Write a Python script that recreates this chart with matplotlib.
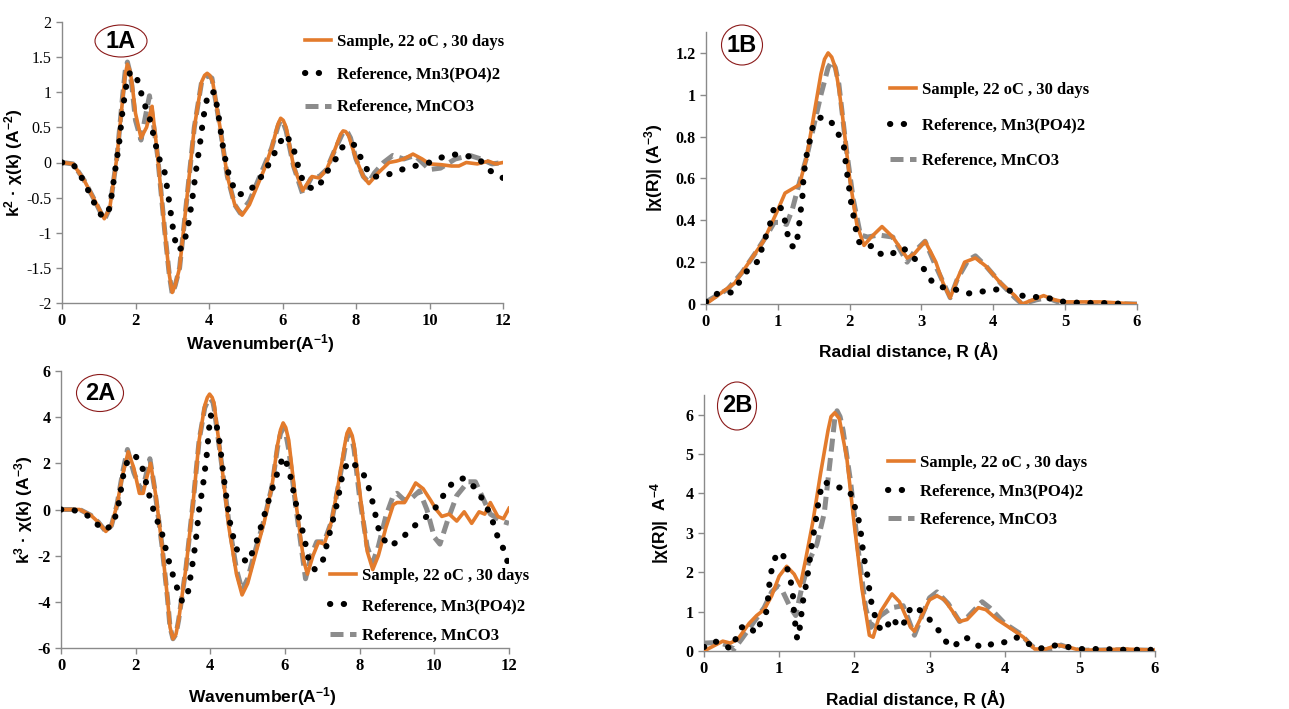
import matplotlib
matplotlib.use("Agg")
import matplotlib.pyplot as plt
from matplotlib.patches import Ellipse
from matplotlib.font_manager import FontProperties

plt.rcParams['axes.unicode_minus'] = False
plt.rcParams['font.family'] = ['Liberation Serif', 'DejaVu Serif']
plt.rcParams['font.weight'] = 'bold'
plt.rcParams['mathtext.default'] = 'bf'
plt.rcParams['mathtext.fontset'] = 'custom'
plt.rcParams['mathtext.bf'] = 'Liberation Sans:bold'

# ---- panel 1A : k^2 weighted chi(k) ----
k1_s = [0, 0.3, 0.6, 0.9, 1.15, 1.3, 1.5, 1.65, 1.72, 1.78, 1.84, 1.9, 2.0, 2.15, 2.3, 2.45, 2.6,
        2.8, 2.92, 3.0, 3.08, 3.2, 3.4, 3.6, 3.8, 3.88, 3.95, 4.02, 4.1, 4.3, 4.5, 4.7, 4.9, 5.1,
        5.3, 5.5, 5.7, 5.88, 5.95, 6.02, 6.1, 6.3, 6.55, 6.8, 7.0, 7.2, 7.4, 7.58, 7.65, 7.72,
        7.8, 8.0, 8.2, 8.35, 8.6, 8.9, 9.1, 9.3, 9.55, 9.8, 10.0, 10.3, 10.6, 10.8, 11.0, 11.3,
        11.6, 11.8, 12.0]
chi1_s = [0, -0.02, -0.25, -0.55, -0.8, -0.65, 0.1, 0.9, 1.25, 1.4, 1.32, 1.15, 0.7, 0.35, 0.5,
          0.8, 0.1, -1.0, -1.6, -1.85, -1.75, -1.5, -0.5, 0.5, 1.15, 1.24, 1.27, 1.24, 1.15, 0.5,
          -0.2, -0.6, -0.75, -0.6, -0.35, -0.1, 0.2, 0.55, 0.63, 0.6, 0.5, -0.05, -0.4, -0.2,
          -0.22, -0.1, 0.15, 0.4, 0.45, 0.44, 0.38, 0.05, -0.2, -0.3, -0.15, 0.0, 0.02, 0.05,
          0.12, 0.05, -0.02, -0.03, -0.05, -0.05, 0.0, -0.02, 0.02, -0.02, 0.0]
k1_p = [0, 0.3, 0.6, 0.85, 1.1, 1.3, 1.45, 1.55, 1.65, 1.75, 1.85, 1.98, 2.1, 2.2, 2.3, 2.4, 2.55,
        2.65, 2.8, 2.9, 3.05, 3.15, 3.3, 3.45, 3.55, 3.65, 3.75, 3.85, 3.98, 4.15, 4.25, 4.4, 4.55,
        4.75, 4.95, 5.2, 5.5, 5.8, 5.95, 6.1, 6.3, 6.5, 6.7, 6.9, 7.1, 7.3, 7.45, 7.6, 7.75, 7.95,
        8.15, 8.4, 8.7, 9.0, 9.25, 9.6, 10.0, 10.2, 10.5, 10.8, 11.0, 11.4, 11.6, 11.9, 12.0]
chi1_p = [0, -0.02, -0.27, -0.55, -0.78, -0.65, -0.1, 0.25, 0.75, 1.1, 1.28, 1.28, 1.1, 0.9, 0.75,
          0.6, 0.25, 0.05, -0.15, -0.5, -1.05, -1.25, -1.2, -0.85, -0.5, -0.1, 0.25, 0.65, 1.0, 1.0,
          0.7, 0.15, -0.2, -0.45, -0.45, -0.35, -0.15, 0.15, 0.3, 0.4, 0.2, -0.2, -0.35, -0.38,
          -0.25, -0.05, 0.05, 0.2, 0.28, 0.25, 0.05, -0.2, -0.2, -0.15, -0.1, -0.05, 0.0, 0.05, 0.1,
          0.12, 0.1, 0.02, -0.1, -0.2, -0.22]
k1_c = [0, 0.3, 0.6, 0.9, 1.15, 1.3, 1.5, 1.65, 1.72, 1.78, 1.84, 1.9, 2.0, 2.15, 2.25, 2.38, 2.5,
        2.6, 2.8, 2.92, 3.0, 3.08, 3.2, 3.4, 3.6, 3.8, 3.92, 4.0, 4.08, 4.3, 4.5, 4.7, 4.85, 5.1,
        5.3, 5.5, 5.7, 5.88, 5.95, 6.02, 6.1, 6.3, 6.55, 6.8, 7.0, 7.2, 7.4, 7.62, 7.7, 7.78,
        7.85, 8.0, 8.2, 8.35, 8.5, 8.75, 9.0, 9.3, 9.6, 9.8, 10.0, 10.3, 10.7, 11.1, 11.4, 11.7,
        12.0]
chi1_c = [0, -0.02, -0.25, -0.55, -0.82, -0.65, 0.1, 0.95, 1.3, 1.43, 1.3, 1.1, 0.6, 0.32, 0.6,
          0.95, 0.5, 0.1, -1.0, -1.6, -1.87, -1.75, -1.5, -0.5, 0.5, 1.15, 1.22, 1.23, 1.2, 0.5,
          -0.2, -0.6, -0.72, -0.55, -0.3, -0.05, 0.2, 0.52, 0.6, 0.57, 0.45, -0.05, -0.45, -0.2,
          -0.2, -0.1, 0.15, 0.4, 0.45, 0.42, 0.35, 0.05, -0.2, -0.28, -0.15, 0.0, 0.1, 0.05, 0.1,
          0.0, -0.1, -0.08, 0.05, 0.1, 0.05, -0.02, 0.0]

# ---- panel 1B : |chi(R)| ----
r1_s = [0, 0.2, 0.4, 0.6, 0.8, 1.0, 1.1, 1.2, 1.3, 1.4, 1.5, 1.6, 1.65, 1.7, 1.75, 1.8, 1.85,
        1.9, 2.0, 2.1, 2.2, 2.3, 2.45, 2.6, 2.8, 2.9, 3.05, 3.2, 3.3, 3.4, 3.5, 3.6, 3.75, 3.9,
        4.1, 4.3, 4.4, 4.55, 4.7, 4.85, 5.0, 5.5, 6.0]
ft1_s = [0.0, 0.05, 0.1, 0.2, 0.3, 0.45, 0.53, 0.55, 0.57, 0.7, 0.9, 1.1, 1.17, 1.2, 1.18, 1.13,
         1.03, 0.9, 0.6, 0.38, 0.28, 0.32, 0.37, 0.32, 0.22, 0.24, 0.3, 0.2, 0.1, 0.03, 0.12,
         0.2, 0.22, 0.18, 0.1, 0.04, 0.0, 0.02, 0.04, 0.02, 0.01, 0.01, 0.0]
r1_p = [0, 0.11, 0.24, 0.37, 0.55, 0.64, 0.74, 0.78, 0.83, 0.89, 0.92, 0.97, 1.07, 1.13, 1.18,
        1.24, 1.28, 1.3, 1.32, 1.34, 1.36, 1.41, 1.45, 1.48, 1.57, 1.69, 1.79, 1.86, 1.92, 1.95,
        1.99, 2.03, 2.06, 2.09, 2.12, 2.22, 2.33, 2.43, 2.54, 2.74, 2.86, 2.99, 3.16, 3.29, 3.41,
        3.53, 3.65, 3.79, 3.92, 4.05, 4.18, 4.44, 4.55, 4.69, 4.83, 4.95, 5.22, 5.5, 5.9]
ft1_p = [0.01, 0.045, 0.055, 0.055, 0.15, 0.18, 0.21, 0.27, 0.32, 0.38, 0.43, 0.48, 0.45, 0.34,
         0.28, 0.27, 0.33, 0.39, 0.45, 0.5, 0.62, 0.73, 0.79, 0.84, 0.89, 0.89, 0.85, 0.8, 0.75,
         0.66, 0.56, 0.46, 0.41, 0.35, 0.3, 0.27, 0.28, 0.24, 0.23, 0.27, 0.23, 0.19, 0.1, 0.08,
         0.08, 0.06, 0.05, 0.06, 0.06, 0.07, 0.07, 0.035, 0.035, 0.03, 0.025, 0.012, 0.005, 0.005,
         0.0]
r1_c = [0, 0.3, 0.5, 0.7, 0.85, 0.95, 1.05, 1.12, 1.2, 1.3, 1.4, 1.5, 1.6, 1.7, 1.75, 1.8, 1.85,
        1.95, 2.05, 2.15, 2.25, 2.4, 2.6, 2.8, 2.9, 3.05, 3.2, 3.4, 3.5, 3.65, 3.75, 3.9, 4.1,
        4.3, 4.4, 4.6, 4.75, 4.9, 5.0, 6.0]
ft1_c = [0.01, 0.07, 0.15, 0.25, 0.33, 0.39, 0.39, 0.38, 0.45, 0.58, 0.7, 0.85, 1.0, 1.13, 1.16,
         1.13, 1.05, 0.75, 0.5, 0.33, 0.32, 0.33, 0.32, 0.2, 0.25, 0.3, 0.18, 0.03, 0.12, 0.21,
         0.23, 0.18, 0.1, 0.03, 0.0, 0.02, 0.03, 0.01, 0.005, 0.0]

# ---- panel 2A : k^3 weighted chi(k) ----
k2_s = [0, 0.5, 0.8, 1.0, 1.2, 1.35, 1.5, 1.65, 1.8, 1.95, 2.1, 2.2, 2.3, 2.4, 2.55, 2.7, 2.85,
        2.92, 3.0, 3.08, 3.15, 3.35, 3.55, 3.7, 3.85, 3.92, 3.98, 4.05, 4.1, 4.3, 4.5, 4.7, 4.85,
        5.0, 5.2, 5.45, 5.65, 5.8, 5.88, 5.95, 6.02, 6.1, 6.3, 6.5, 6.6, 6.75, 6.9, 7.05, 7.25,
        7.45, 7.6, 7.66, 7.72, 7.8, 7.85, 8.0, 8.2, 8.35, 8.5, 8.7, 8.9, 9.0, 9.2, 9.35, 9.5,
        9.7, 9.9, 10.05, 10.2, 10.4, 10.6, 10.8, 11.0, 11.2, 11.35, 11.5, 11.7, 11.85, 12.0]
chi2_s = [0, 0.0, -0.25, -0.55, -0.95, -0.7, 0.2, 1.5, 2.5, 1.8, 0.7, 0.7, 1.4, 2.0, 0.5, -1.5,
          -3.8, -5.1, -5.6, -5.4, -4.8, -2.5, 0.5, 3.0, 4.5, 4.85, 5.0, 4.85, 4.6, 2.0, -0.8,
          -2.8, -3.7, -3.2, -2.0, -0.5, 1.0, 2.8, 3.45, 3.75, 3.55, 3.0, 0.2, -2.2, -2.8, -2.0,
          -1.4, -1.5, -0.5, 1.3, 2.8, 3.3, 3.5, 3.2, 2.8, 0.8, -1.8, -2.6, -2.0, -0.8, 0.2, 0.3,
          0.3, 0.7, 1.15, 0.9, 0.4, 0.0, -0.3, -0.2, -0.5, -0.1, -0.6, -0.1, -0.2, 0.3, -0.3,
          -0.4, 0.05]
k2_p = [0, 0.3, 0.7, 1.15, 1.4, 1.55, 1.7, 1.85, 2.0, 2.15, 2.25, 2.35, 2.5, 2.7, 2.85, 2.95, 3.05,
        3.15, 3.25, 3.4, 3.5, 3.6, 3.7, 3.8, 3.9, 4.0, 4.15, 4.25, 4.35, 4.45, 4.55, 4.7, 4.85,
        5.0, 5.2, 5.4, 5.6, 5.8, 5.95, 6.1, 6.2, 6.35, 6.5, 6.65, 6.8, 7.0, 7.2, 7.4, 7.55, 7.7,
        7.9, 8.05, 8.2, 8.35, 8.5, 8.6, 8.8, 9.1, 9.4, 9.7, 9.9, 10.0, 10.2, 10.4, 10.6, 10.8,
        11.0, 11.2, 11.35, 11.5, 11.7, 11.85, 11.95, 12.0]
chi2_p = [0, 0.0, -0.25, -0.9, -0.65, 0.3, 1.8, 2.3, 2.3, 2.0, 1.35, 0.7, -0.15, -1.0, -2.0, -2.6,
          -3.1, -3.6, -4.0, -3.6, -2.6, -1.5, 0.0, 1.0, 2.3, 4.1, 3.8, 2.9, 1.5, 0.3, -0.8, -1.7,
          -2.1, -2.3, -1.6, -0.5, 0.6, 1.6, 2.3, 1.8, 1.0, -0.2, -1.1, -2.3, -2.6, -2.3, -1.0, 0.3,
          1.6, 2.1, 1.9, 1.7, 1.2, 0.3, -0.8, -1.2, -1.6, -1.3, -0.8, -0.4, -0.2, 0.0, 0.5, 1.0,
          1.3, 1.35, 1.1, 0.7, 0.25, -0.2, -1.2, -1.7, -2.2, -2.5]
k2_c = [0, 0.5, 0.8, 1.0, 1.2, 1.35, 1.5, 1.65, 1.78, 1.95, 2.15, 2.25, 2.38, 2.5, 2.7, 2.85, 2.92,
        3.0, 3.08, 3.15, 3.35, 3.55, 3.7, 3.85, 3.93, 4.0, 4.07, 4.1, 4.3, 4.5, 4.7, 4.85, 5.0,
        5.2, 5.45, 5.65, 5.8, 5.88, 5.95, 6.02, 6.1, 6.3, 6.55, 6.7, 6.85, 7.05, 7.25, 7.45,
        7.6, 7.66, 7.72, 7.8, 7.85, 8.0, 8.2, 8.35, 8.5, 8.7, 8.9, 9.0, 9.2, 9.4, 9.6, 9.8, 10.0,
        10.15, 10.35, 10.6, 10.9, 11.1, 11.3, 11.5, 11.8, 12.0]
chi2_c = [0, 0.0, -0.25, -0.55, -0.95, -0.7, 0.2, 1.6, 2.6, 1.6, 0.8, 1.3, 2.2, 1.0, -1.5, -3.8,
          -5.1, -5.6, -5.4, -4.8, -2.5, 0.5, 3.0, 4.4, 4.7, 4.8, 4.65, 4.4, 2.0, -0.6, -2.6, -3.5,
          -3.0, -1.8, -0.4, 1.0, 2.7, 3.3, 3.5, 3.3, 2.6, 0.0, -3.0, -2.0, -1.4, -1.4, -0.5, 1.2,
          2.6, 3.1, 3.3, 3.0, 2.6, 0.5, -1.6, -2.3, -1.6, -0.3, 0.6, 0.7, 0.4, 0.5, 0.8, 0.0,
          -1.2, -1.5, -0.5, 0.6, 1.2, 1.2, 0.5, -0.2, -0.5, -0.6]

# ---- panel 2B : |chi(R)| ----
r2_s = [0, 0.15, 0.25, 0.35, 0.45, 0.6, 0.7, 0.8, 0.9, 1.0, 1.1, 1.2, 1.28, 1.35, 1.45, 1.55,
        1.65, 1.69, 1.74, 1.8, 1.9, 2.0, 2.1, 2.2, 2.25, 2.35, 2.5, 2.6, 2.75, 2.8, 2.9, 3.0,
        3.1, 3.2, 3.4, 3.5, 3.65, 3.75, 3.9, 4.1, 4.25, 4.4, 4.55, 4.7, 4.85, 5.0, 5.3, 5.6, 6.0]
ft2_s = [0.0, 0.15, 0.25, 0.2, 0.3, 0.7, 0.9, 1.05, 1.4, 1.9, 2.15, 1.95, 1.65, 2.3, 3.3, 4.5,
         5.6, 5.95, 6.05, 5.9, 4.9, 3.2, 1.6, 0.4, 0.35, 1.0, 1.45, 1.25, 0.6, 0.5, 0.9, 1.3,
         1.4, 1.3, 0.75, 0.8, 1.1, 1.05, 0.8, 0.55, 0.35, 0.05, 0.05, 0.15, 0.1, 0.02, 0.03,
         0.05, 0.02]
r2_p = [0, 0.12, 0.25, 0.35, 0.42, 0.5, 0.6, 0.68, 0.75, 0.83, 0.85, 0.88, 0.92, 0.97, 1.05, 1.1,
        1.15, 1.18, 1.2, 1.22, 1.24, 1.27, 1.28, 1.3, 1.32, 1.35, 1.38, 1.4, 1.42, 1.45, 1.47,
        1.5, 1.52, 1.55, 1.6, 1.75, 1.85, 1.95, 2.0, 2.05, 2.08, 2.1, 2.12, 2.15, 2.18, 2.2,
        2.23, 2.28, 2.33, 2.4, 2.5, 2.6, 2.65, 2.7, 2.78, 2.9, 3.05, 3.15, 3.25, 3.32, 3.45,
        3.55, 3.67, 3.75, 3.85, 3.95, 4.05, 4.15, 4.3, 4.45, 4.55, 4.7, 4.85, 5.0, 5.3, 5.6, 6.0]
ft2_p = [0.1, 0.25, 0.2, 0.05, 0.3, 0.6, 0.65, 0.45, 0.7, 1.0, 1.3, 1.9, 2.2, 2.5, 2.45, 2.15,
         1.8, 1.5, 0.9, 0.6, 0.3, 0.5, 0.7, 1.0, 1.3, 1.6, 1.95, 2.2, 2.55, 2.85, 3.15, 3.45,
         3.75, 4.05, 4.3, 4.15, 4.15, 4.0, 3.7, 3.4, 3.1, 2.8, 2.45, 2.15, 1.85, 1.55, 1.2, 0.85,
         0.6, 0.5, 0.85, 0.6, 0.65, 0.95, 1.15, 1.0, 0.7, 0.45, 0.15, 0.1, 0.35, 0.3, 0.1, 0.1,
         0.2, 0.2, 0.25, 0.35, 0.2, 0.05, 0.1, 0.15, 0.1, 0.05, 0.05, 0.03, 0.03]
r2_c = [0, 0.2, 0.3, 0.4, 0.5, 0.65, 0.8, 0.9, 0.98, 1.05, 1.15, 1.22, 1.3, 1.4, 1.5, 1.6, 1.7,
        1.74, 1.77, 1.81, 1.85, 1.95, 2.05, 2.15, 2.22, 2.35, 2.5, 2.65, 2.8, 2.9, 3.0, 3.1,
        3.25, 3.4, 3.5, 3.7, 3.8, 4.0, 4.2, 4.35, 4.45, 4.6, 4.75, 4.9, 5.0, 5.5, 6.0]
ft2_c = [0.2, 0.22, 0.15, 0.05, 0.3, 0.7, 1.1, 1.5, 1.65, 1.5, 1.1, 0.9, 1.6, 2.3, 2.7, 3.5, 5.2,
         5.9, 6.1, 5.95, 5.6, 4.3, 2.6, 1.1, 0.6, 0.9, 1.1, 1.15, 0.4, 0.9, 1.35, 1.5, 1.2, 0.75,
         0.85, 1.25, 1.1, 0.7, 0.45, 0.15, 0.0, 0.05, 0.15, 0.05, 0.02, 0.03, 0.02]

labels = ['Sample, 22 oC , 30 days', 'Reference, Mn3(PO4)2', 'Reference, MnCO3']
ORANGE = '#E37B2C'
GRAY = '#8C8C8C'
SERIF = 'Liberation Serif'

W, H = 1289, 709
fig = plt.figure(figsize=(W / 100, H / 100), dpi=100)
axes_list = []


def px_axes(l, t, r, b):
    return fig.add_axes([l / W, 1 - b / H, (r - l) / W, (b - t) / H])


def style(ax, xlim, xticks, ylim, yticks, ybold=True):
    ax.set_xlim(*xlim)
    ax.set_ylim(*ylim)
    ax.set_xticks(xticks, [f"{v:g}" for v in xticks])
    ax.set_yticks(yticks, [f"{v:g}" for v in yticks])
    for s in ['top', 'right']:
        ax.spines[s].set_visible(False)
    for s in ['left', 'bottom']:
        ax.spines[s].set_color('#8a8a8a')
        ax.spines[s].set_linewidth(1.0)
    ax.tick_params(colors='#8a8a8a', length=4, width=1, labelcolor='black')
    axes_list.append((ax, ybold))


def curves(ax, xs, ys, xp, yp, xc, yc):
    h1, = ax.plot(xs, ys, color=ORANGE, lw=2.6, zorder=3)
    h2, = ax.plot(xp, yp, color='black', lw=4.4, linestyle=(0, (0.05, 2.2)),
                  dash_capstyle='round', zorder=4)
    h3, = ax.plot(xc, yc, color=GRAY, lw=3.6, linestyle=(0, (2.6, 1.3)), zorder=2)
    return [h1, h2, h3]


def legend(ax, handles, x, y, spacing):
    ax.legend(handles, labels, loc='upper left', bbox_to_anchor=(x / W, 1 - y / H),
              bbox_transform=fig.transFigure, frameon=False, borderpad=0, borderaxespad=0,
              handlelength=1.55, handletextpad=0.35, labelspacing=spacing,
              prop={'family': SERIF, 'weight': 'bold', 'size': 12})


def badge(txt, cx, cy, w, h):
    fig.add_artist(Ellipse((cx / W, 1 - cy / H), w / W, h / H, transform=fig.transFigure,
                           facecolor='white', edgecolor='#8B1A1A', lw=0.8, zorder=10))
    fig.text(cx / W, 1 - cy / H, txt, ha='center', va='center', fontsize=17,
             fontweight='bold', family='Liberation Sans', zorder=11)


lab = dict(fontfamily='Liberation Sans', fontweight='bold', fontsize=12.5)

# 1A
ax = px_axes(62, 22, 503, 303)
hs = curves(ax, k1_s, chi1_s, k1_p, chi1_p, k1_c, chi1_c)
style(ax, (0, 12), list(range(0, 13, 2)), (-2, 2),
      [-2, -1.5, -1, -0.5, 0, 0.5, 1, 1.5, 2], ybold=False)
ax.set_xlabel('Wavenumber(A$^{-1}$)', **lab)
ax.set_ylabel('k$^2$ · χ(k) (A$^{-2}$)', **lab)
ax.xaxis.set_label_coords(0.45, -0.105)
ax.yaxis.set_label_coords(-0.084, 0.5)
legend(ax, hs, 305, 34, 1.0)

# 1B
ax = px_axes(706, 32, 1137, 304)
hs = curves(ax, r1_s, ft1_s, r1_p, ft1_p, r1_c, ft1_c)
style(ax, (0, 6), list(range(0, 7)), (0, 1.3), [0, 0.2, 0.4, 0.6, 0.8, 1, 1.2])
ax.set_xlabel('Radial distance, R (Å)', **lab)
ax.set_ylabel('|χ(R)| (A$^{-3}$)', **lab)
ax.xaxis.set_label_coords(0.47, -0.14)
ax.yaxis.set_label_coords(-0.095, 0.5)
legend(ax, hs, 890, 82, 1.17)

# 2A
ax = px_axes(61, 371, 509, 648)
hs = curves(ax, k2_s, chi2_s, k2_p, chi2_p, k2_c, chi2_c)
style(ax, (0, 12), list(range(0, 13, 2)), (-6, 6), [-6, -4, -2, 0, 2, 4, 6])
ax.set_xlabel('Wavenumber(A$^{-1}$)', **lab)
ax.set_ylabel('k$^3$ · χ(k) (A$^{-3}$)', **lab)
ax.xaxis.set_label_coords(0.45, -0.134)
ax.yaxis.set_label_coords(-0.058, 0.5)
legend(ax, hs, 330, 568, 0.84)

# 2B
ax = px_axes(704, 395, 1155, 651)
hs = curves(ax, r2_s, ft2_s, r2_p, ft2_p, r2_c, ft2_c)
style(ax, (0, 6), list(range(0, 7)), (0, 6.5), [0, 1, 2, 3, 4, 5, 6])
ax.set_xlabel('Radial distance, R (Å)', **lab)
ax.set_ylabel('|χ(R)|  A$^{-4}$', **lab)
ax.xaxis.set_label_coords(0.47, -0.152)
ax.yaxis.set_label_coords(-0.073, 0.5)
legend(ax, hs, 888, 455, 0.75)

badge('1A', 121, 41, 52, 32)
badge('1B', 742, 45, 41, 40)
badge('2A', 100, 393, 47, 37)
badge('2B', 737, 406, 39, 48)

# tick label fonts: serif, set after a first draw so they stick
fig.canvas.draw()
for ax, ybold in axes_list:
    for t in ax.get_xticklabels():
        t.set_fontproperties(FontProperties(family=SERIF, weight='bold', size=12))
    for t in ax.get_yticklabels():
        t.set_fontproperties(FontProperties(family=SERIF, size=11.5,
                                            weight='bold' if ybold else 'normal'))

fig.savefig('out.png', dpi=100)
